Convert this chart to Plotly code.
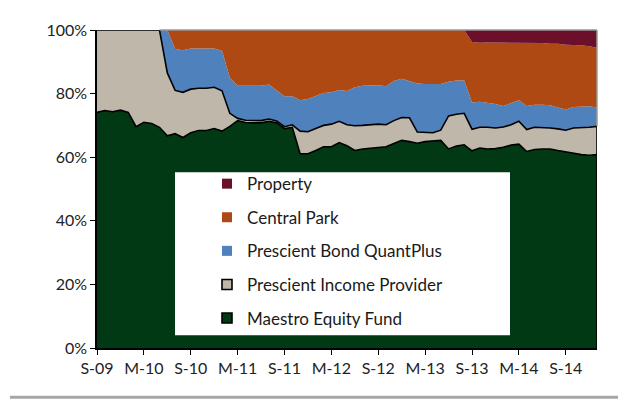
import plotly.graph_objects as go

months = ["Sep-09","Oct-09","Nov-09","Dec-09","Jan-10","Feb-10","Mar-10","Apr-10","May-10","Jun-10",
          "Jul-10","Aug-10","Sep-10","Oct-10","Nov-10","Dec-10","Jan-11","Feb-11","Mar-11","Apr-11",
          "May-11","Jun-11","Jul-11","Aug-11","Sep-11","Oct-11","Nov-11","Dec-11","Jan-12","Feb-12",
          "Mar-12","Apr-12","May-12","Jun-12","Jul-12","Aug-12","Sep-12","Oct-12","Nov-12","Dec-12",
          "Jan-13","Feb-13","Mar-13","Apr-13","May-13","Jun-13","Jul-13","Aug-13","Sep-13","Oct-13",
          "Nov-13","Dec-13","Jan-14","Feb-14","Mar-14","Apr-14","May-14","Jun-14","Jul-14","Aug-14",
          "Sep-14","Oct-14","Nov-14","Dec-14","Jan-15"]
tick_months = ["Sep-09","Mar-10","Sep-10","Mar-11","Sep-11","Mar-12","Sep-12","Mar-13","Sep-13","Mar-14","Sep-14"]
tick_labels = ["S-09","M-10","S-10","M-11","S-11","M-12","S-12","M-13","S-13","M-14","S-14"]
y_ticks = [0, 20, 40, 60, 80, 100]
y_tick_labels = ["0%", "20%", "40%", "60%", "80%", "100%"]

maestro = [74.1,74.7,74.3,74.8,74.1,69.6,71.0,70.6,69.4,66.7,67.4,66.2,67.7,68.4,68.4,69.0,68.2,69.7,71.5,70.9,
           70.8,70.8,71.3,70.8,69.0,69.4,61.1,61.1,62.1,63.3,63.3,64.6,63.6,62.1,62.6,62.9,63.1,63.3,64.3,65.3,
           64.9,64.4,64.9,65.0,65.3,62.6,63.5,63.9,62.0,62.9,62.6,62.7,63.1,63.8,64.1,61.8,62.4,62.6,62.6,62.1,
           61.6,61.1,60.8,60.6,60.8]
income = [25.9,25.3,25.7,25.2,25.9,30.4,29.0,29.4,30.6,19.8,13.6,14.2,13.7,13.3,13.3,13.0,12.7,4.1,0.7,0.7,
          0.7,0.7,0.7,0.6,0.6,0.8,7.1,6.9,6.9,6.7,7.1,6.7,6.6,7.8,7.4,7.3,7.3,6.9,7.2,7.2,
          7.5,3.5,2.8,2.7,3.2,10.4,10.0,9.9,6.8,6.5,6.8,6.5,6.4,6.4,7.2,6.9,7.0,6.8,6.6,6.8,
          6.9,8.1,8.4,8.8,8.9]
bond = [0,0,0,0,0,0,0,0,0,13.5,13.0,13.2,12.8,12.5,12.5,12.2,12.6,11.2,10.3,10.8,
        11.0,11.0,10.9,9.6,9.6,9.0,9.7,10.3,10.2,10.2,10.0,9.8,10.6,12.1,12.5,12.4,12.2,12.1,12.5,12.2,
        11.6,15.3,15.3,15.3,14.5,10.7,10.6,10.3,8.4,8.0,7.7,7.5,6.6,6.7,6.6,7.4,7.1,7.1,7.1,6.7,
        6.5,6.6,6.6,6.6,5.9]
central = [0,0,0,0,0,0,0,0,0,0,6.0,6.4,5.8,5.8,5.8,5.8,6.5,15.0,17.5,17.6,
           17.5,17.5,17.1,19.0,20.8,20.8,22.1,21.7,20.8,19.8,19.6,18.9,19.2,18.0,17.5,17.4,17.4,17.7,16.0,15.3,
           16.0,16.8,17.0,17.0,17.0,16.3,15.9,15.9,19.0,18.6,19.0,19.4,20.0,19.2,18.2,19.9,19.5,19.4,19.4,20.1,
           20.4,19.6,19.4,18.9,18.8]
prop = [0,0,0,0,0,0,0,0,0,0,0,0,0,0,0,0,0,0,0,0,
        0,0,0,0,0,0,0,0,0,0,0,0,0,0,0,0,0,0,0,0,
        0,0,0,0,0,0,0,0,3.8,4.0,3.9,3.9,3.9,3.9,3.9,4.0,4.0,4.1,4.3,4.3,
        4.6,4.6,4.8,5.1,5.6]

names = ["Maestro Equity Fund", "Prescient Income Provider", "Prescient Bond QuantPlus", "Central Park", "Property"]
series = [maestro, income, bond, central, prop]
colors = ["#003913", "#C0B7AB", "#4F81BD", "#AE4914", "#6B0F2B"]
outlined = [True, True, False, False, False]

fig = go.Figure()
for name, vals, col, ol in zip(names, series, colors, outlined):
    fig.add_trace(go.Scatter(
        x=months, y=vals, name=name, stackgroup="one", mode="lines",
        fillcolor=col,
        line=dict(color="black" if ol else col, width=1.6 if ol else 0),
        showlegend=False, hoverinfo="skip"))

# right-hand outline of the outlined areas (Excel draws the area border)
top_outlined = [m + i for m, i in zip(maestro, income)]
fig.add_trace(go.Scatter(x=[months[-1], months[-1]], y=[0, top_outlined[-1]], mode="lines",
                         line=dict(color="black", width=1.6), showlegend=False, hoverinfo="skip"))

# legend entries (small squares), top to bottom
for i, (name, col, ol) in enumerate(reversed(list(zip(names, colors, outlined)))):
    fig.add_trace(go.Scatter(
        x=[None], y=[None], name=name, mode="markers", legendgroup=str(i),
        marker=dict(symbol="square", size=10, color=col,
                    line=dict(color="black", width=1.6 if ol else 0))))

# grey plot-area border starts where the outlined income area leaves 100%
first_below = next(k for k, v in enumerate(top_outlined) if v < 99.9) - 1

fig.update_layout(
    width=618, height=393,
    margin=dict(l=89, r=29, t=13, b=53),
    paper_bgcolor="white", plot_bgcolor="white",
    font=dict(family="Lato, 'Open Sans', sans-serif", size=16, color="#222222"),
    showlegend=True,
    legend=dict(x=0.22, y=0.572, xanchor="left", yanchor="top",
                bgcolor="rgba(0,0,0,0)", borderwidth=0,
                font=dict(size=17, color="#1a1a1a"),
                traceorder="grouped", tracegroupgap=8.5, itemwidth=30),
    xaxis=dict(type="category", range=[0, len(months) - 1],
               tickmode="array", tickvals=tick_months, ticktext=tick_labels,
               showline=True, linecolor="black", linewidth=1.5,
               ticks="outside", ticklen=5, tickcolor="black", tickwidth=1,
               showgrid=False, zeroline=False, tickangle=0),
    yaxis=dict(range=[0, 100], tickmode="array", tickvals=y_ticks, ticktext=y_tick_labels,
               showline=True, linecolor="black", linewidth=1.5,
               ticks="outside", ticklen=5, tickcolor="black", tickwidth=1,
               showgrid=False, zeroline=False),
    shapes=[
        dict(type="line", xref="x", yref="paper", x0=months[first_below], x1=months[-1], y0=1, y1=1,
             line=dict(color="#9a9a9a", width=1.5), layer="above"),
        dict(type="line", xref="paper", yref="y", x0=1, x1=1, y0=top_outlined[-1], y1=100,
             line=dict(color="#9a9a9a", width=1.5), layer="above"),
        dict(type="rect", xref="paper", yref="paper", x0=0.156, x1=0.826, y0=0.04, y1=0.553,
             fillcolor="white", line=dict(width=0), layer="above"),
        dict(type="line", xref="paper", yref="paper", x0=-0.174, x1=1.06, y0=-0.1545, y1=-0.1545,
             line=dict(color="#a6a6a6", width=3), layer="above"),
    ],
)

fig.write_html("out.html")
